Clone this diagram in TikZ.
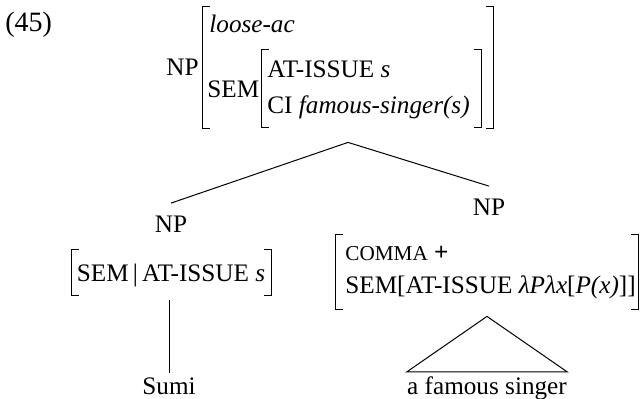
\documentclass[tikz,border=0pt]{standalone}
\usepackage{fontspec}
\setmainfont{Liberation Serif}
\usetikzlibrary{fit}
\tikzset{
    every node/.style={inner sep=0pt, font=\fontsize{12.6}{15}\selectfont}, % all text in the tree
    lbl/.style={anchor=base west}, % text placed at its baseline
    cat/.style={anchor=base, inner sep=3pt}, % category labels of the tree
    avm/.style={inner sep=0pt, fit={#1}}, % frame of a feature structure
    branch/.style={line width=0.5pt}, % lines of the tree
}
\newcommand\avmbox[1]{% square brackets round a frame
    \draw[line width=0.75pt] ([xshift=3.5pt]#1.north west) -| (#1.south west) -- ([xshift=3.5pt]#1.south west);
    \draw[line width=0.75pt] ([xshift=-3.5pt]#1.north east) -| (#1.south east) -- ([xshift=-3.5pt]#1.south east);
}

\begin{document}
\begin{tikzpicture}[x=0.5pt, y=-0.5pt]
\useasboundingbox (0,0) rectangle (644,398);
\node[lbl, font=\fontsize{14}{16}\selectfont] (ex) at (5,31) {(45)};
% mother
\node[lbl] (rootcat) at (166,75) {NP};
\node[avm={(203,7) (493,128)}] (rootavm) {};
\node[lbl] (looseac) at (209,32) {\textit{loose-ac}};
\node[lbl] (semlbl) at (207,97) {SEM};
\node[avm={(262,50) (481,127)}] (semavm) {};
\node[lbl] (atissue) at (267,77) {AT-ISSUE \textit{s}};
\node[lbl] (ci) at (267,113) {CI \textit{famous-singer(s)}};
\avmbox{rootavm}
\avmbox{semavm}
\coordinate (top) at ([yshift=-7pt]rootavm.south);
% left daughter
\node[cat] (lnp) at (171,232) {NP};
\node[avm={(72,250) (271,295)}] (lavm) {};
\node[anchor=base] (lsem) at (171,281) {SEM\,|\,AT-ISSUE \textit{s}};
\avmbox{lavm}
\node[anchor=base, inner xsep=0pt, inner ysep=2pt] (sumi) at (169,394) {Sumi};
% right daughter
\node[cat] (rnp) at (489,215) {NP};
\node[avm={(336,235) (638,309)}] (ravm) {};
\node[lbl] (comma) at (345,260) {{\fontsize{10.6}{12}\selectfont COMMA} \textbf{+}};
\node[lbl] (rsem) at (345,293) {SEM[AT-ISSUE \textit{λPλx}[\textit{P(x)}]]};
\avmbox{ravm}
\node[anchor=base, inner xsep=0pt, inner ysep=2pt] (fs) at (487,394) {a famous singer};
% branches
\draw[branch] (top) -- ([yshift=3pt]lnp.north);
\draw[branch] (top) -- ([yshift=3pt]rnp.north);
\draw[branch] ([yshift=-2.5pt]lavm.south -| sumi.north) -- (sumi.north);
\draw[branch] ([yshift=-3.5pt]ravm.south) -- (fs.north west) -- (fs.north east) -- cycle;
\end{tikzpicture}
\end{document}
